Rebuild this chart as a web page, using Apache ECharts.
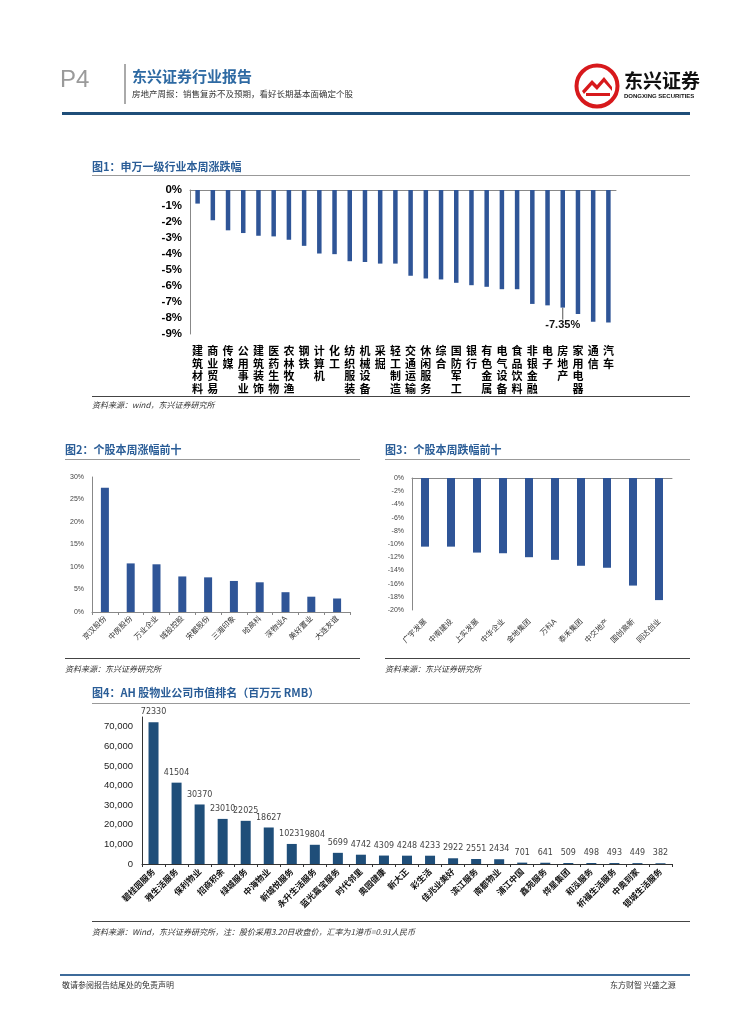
<!DOCTYPE html>
<html><head><meta charset="utf-8">
<script src="https://cdn.jsdelivr.net/npm/echarts@6/dist/echarts.min.js"></script>
<style>
body{margin:0;background:#fff;font-family:"Noto Sans CJK SC","Liberation Sans",sans-serif;}
#page{position:relative;width:755px;height:1024px;overflow:hidden;}
#chart{position:absolute;left:0;top:0;width:755px;height:1024px;}
.t{position:absolute;white-space:nowrap;line-height:1;}
.ln{position:absolute;height:0;}
.ttl{color:#2a5d97;font-weight:bold;font-size:11px;}
.src{color:#333;font-size:8px;font-style:italic;}
</style></head>
<body><div id="page">
<div id="chart"></div>
<div class="t" style="left:60px;top:67px;font-size:24px;color:#9a9a9a;font-family:'Liberation Sans';">P4</div>
<div class="ln" style="left:124px;top:64px;width:0;height:40px;border-left:2px solid #aaa;"></div>
<div class="t" style="left:132px;top:68px;font-size:15px;font-weight:bold;color:#2e6aa3;">东兴证券行业报告</div>
<div class="t" style="left:132px;top:89px;font-size:8.5px;color:#333;">房地产周报：销售复苏不及预期，看好长期基本面确定个股</div>
<svg style="position:absolute;left:574px;top:63px;" width="46" height="46" viewBox="0 0 46 46">
<circle cx="23" cy="23" r="20.5" fill="none" stroke="#d7191c" stroke-width="4"/>
<path d="M8 28 L18 17 L23 22 L30 14 L38 24 L38 28 L30 19 L23 27 L18 22 L10 31 Z" fill="#d7191c"/>
<path d="M12 33 L36 33 L36 30 L12 30 Z" fill="#d7191c"/>
</svg>
<div class="t" style="left:624px;top:70px;font-size:19px;font-weight:bold;color:#111;">东兴证券</div>
<div class="t" style="left:624px;top:93px;font-size:6px;font-weight:bold;color:#111;font-family:'Liberation Sans';">DONGXING SECURITIES</div>
<div class="ln" style="left:62px;top:112px;width:628px;border-top:3px solid #1f4e79;"></div>

<div class="t ttl" style="left:92px;top:161px;">图1：申万一级行业本周涨跌幅</div>
<div class="ln" style="left:92px;top:175px;width:598px;border-top:1px solid #999;"></div>
<div class="ln" style="left:92px;top:396px;width:598px;border-top:1.5px solid #444;"></div>
<div class="t src" style="left:92px;top:401px;">资料来源：wind，东兴证券研究所</div>

<div class="t ttl" style="left:65px;top:444px;">图2：个股本周涨幅前十</div>
<div class="ln" style="left:65px;top:459px;width:295px;border-top:1px solid #999;"></div>
<div class="ln" style="left:65px;top:658px;width:295px;border-top:1.5px solid #444;"></div>
<div class="t src" style="left:65px;top:665px;">资料来源：东兴证券研究所</div>

<div class="t ttl" style="left:385px;top:444px;">图3：个股本周跌幅前十</div>
<div class="ln" style="left:385px;top:459px;width:305px;border-top:1px solid #999;"></div>
<div class="ln" style="left:385px;top:658px;width:305px;border-top:1.5px solid #444;"></div>
<div class="t src" style="left:385px;top:665px;">资料来源：东兴证券研究所</div>

<div class="t ttl" style="left:92px;top:687px;">图4：AH 股物业公司市值排名（百万元 RMB）</div>
<div class="ln" style="left:92px;top:703px;width:598px;border-top:1px solid #999;"></div>
<div class="ln" style="left:92px;top:921px;width:598px;border-top:1.5px solid #444;"></div>
<div class="t src" style="left:92px;top:928px;">资料来源：Wind，东兴证券研究所，注：股价采用3.20日收盘价，汇率为1港币=0.91人民币</div>

<div class="ln" style="left:60px;top:974px;width:630px;border-top:2px solid #3d6b9a;"></div>
<div class="t" style="left:62px;top:981px;font-size:8px;color:#333;">敬请参阅报告结尾处的免责声明</div>
<div class="t" style="left:610px;top:981px;font-size:8px;color:#333;">东方财智 兴盛之源</div>
</div>
<script>
// Figure 1
const fig1Industries = ['建筑材料','商业贸易','传媒','公用事业','建筑装饰','医药生物','农林牧渔','钢铁','计算机','化工','纺织服装','机械设备','采掘','轻工制造','交通运输','休闲服务','综合','国防军工','银行','有色金属','电气设备','食品饮料','非银金融','电子','房地产','家用电器','通信','汽车'];
const fig1Change = [-0.85,-1.89,-2.52,-2.69,-2.86,-2.90,-3.11,-3.49,-3.97,-4.01,-4.45,-4.50,-4.60,-4.60,-5.36,-5.53,-5.59,-5.80,-5.95,-6.05,-6.20,-6.20,-7.12,-7.21,-7.35,-7.75,-8.24,-8.28];
const fig1Highlight = '房地产';
// Figure 2
const fig2Stocks = ['京汉股份','中房股份','万业企业','城投控股','宋都股份','三湘印象','哈高科','深物业A','美好置业','大连友谊'];
const fig2Gain = [27.6,10.8,10.6,7.9,7.7,6.9,6.6,4.4,3.4,3.0];
// Figure 3
const fig3Stocks = ['广宇发展','中南建设','上实发展','中华企业','金地集团','万科A','泰禾集团','中交地产','国创高新','同达创业'];
const fig3Drop = [-10.4,-10.4,-11.3,-11.4,-12.0,-12.4,-13.3,-13.6,-16.3,-18.5];
// Figure 4
const fig4Companies = ['碧桂园服务','雅生活服务','保利物业','招商积余','绿城服务','中海物业','新城悦服务','永升生活服务','蓝光嘉宝服务','时代邻里','奥园健康','新大正','彩生活','佳兆业美好','滨江服务','南都物业','浦江中国','鑫苑服务','烨星集团','和泓服务','祈福生活服务','中奥到家','银城生活服务'];
const fig4MarketCap = [72330,41504,30370,23010,22025,18627,10231,9804,5699,4742,4309,4248,4233,2922,2551,2434,701,641,509,498,493,449,382];

const CJK = '"Noto Sans CJK SC", sans-serif';
const LAT = '"Liberation Sans", Arial, sans-serif';
const blue = '#2f5597';
const blue4 = '#1f4e79';

const chart = echarts.init(document.getElementById('chart'), null, {renderer:'canvas'});
const option = {
  animation:false,
  grid:[
    {left:190, top:190, width:426, height:144},
    {left:92, top:477, width:258, height:135},
    {left:412, top:478, width:260, height:132},
    {left:142, top:717, width:530, height:147}
  ],
  xAxis:[
    {gridIndex:0, type:'category', data:fig1Industries, position:'top',
     axisLine:{lineStyle:{color:'#888'}}, axisTick:{show:false}, axisLabel:{show:false}},
    {gridIndex:0, type:'category', data:fig1Industries, position:'bottom',
     axisLine:{show:false, onZero:false}, axisTick:{show:false},
     axisLabel:{interval:0, margin:11, fontFamily:CJK, fontSize:11, fontWeight:'bold', color:'#000', lineHeight:12.5, verticalAlign:'top',
       formatter:v=>v.split('').join('\n')}},
    {gridIndex:1, type:'category', data:fig2Stocks,
     axisLine:{lineStyle:{color:'#888'}}, axisTick:{show:true, length:3, lineStyle:{color:'#888'}},
     axisLabel:{interval:0, rotate:45, margin:5, fontFamily:CJK, fontSize:7.5, color:'#333'}},
    {gridIndex:2, type:'category', data:fig3Stocks, position:'top',
     axisLine:{lineStyle:{color:'#888'}}, axisTick:{show:false}, axisLabel:{show:false}},
    {gridIndex:2, type:'category', data:fig3Stocks, position:'bottom',
     axisLine:{show:false, onZero:false}, axisTick:{show:false},
     axisLabel:{interval:0, rotate:45, margin:10, fontFamily:CJK, fontSize:7.5, color:'#333'}},
    {gridIndex:3, type:'category', data:fig4Companies,
     axisLine:{lineStyle:{color:'#333'}}, axisTick:{show:true, length:3, lineStyle:{color:'#333'}},
     axisLabel:{interval:0, rotate:45, margin:6, fontFamily:CJK, fontSize:8.5, fontWeight:'bold', color:'#111'}}
  ],
  yAxis:[
    {gridIndex:0, type:'value', min:-9, max:0, interval:1,
     axisLine:{show:true, lineStyle:{color:'#888'}}, axisTick:{show:false}, splitLine:{show:false},
     axisLabel:{fontFamily:LAT, fontSize:11.5, fontWeight:'bold', color:'#000', margin:8, formatter:v=>v+'%'}},
    {gridIndex:1, type:'value', min:0, max:30, interval:5,
     axisLine:{show:true, lineStyle:{color:'#888'}}, axisTick:{show:false}, splitLine:{show:false},
     axisLabel:{fontFamily:LAT, fontSize:7, color:'#444', margin:8, formatter:v=>v+'%'}},
    {gridIndex:2, type:'value', min:-20, max:0, interval:2,
     axisLine:{show:true, lineStyle:{color:'#888'}}, axisTick:{show:false}, splitLine:{show:false},
     axisLabel:{fontFamily:LAT, fontSize:7, color:'#444', margin:8, formatter:v=>v+'%'}},
    {gridIndex:3, type:'value', min:0, max:75000, interval:10000,
     axisLine:{show:true, lineStyle:{color:'#333'}}, axisTick:{show:false}, splitLine:{show:false},
     axisLabel:{fontFamily:LAT, fontSize:9.5, color:'#222', margin:9, showMaxLabel:false,
       formatter:v=>v.toLocaleString('en-US')}}
  ],
  series:[
    {type:'bar', xAxisIndex:1, yAxisIndex:0, barWidth:4.5, itemStyle:{color:blue},
     labelLayout:{dy:10},
     data:fig1Change.map((v,i)=>fig1Industries[i]===fig1Highlight ? {value:v,
       label:{show:true, position:'bottom', distance:2, fontFamily:LAT, fontSize:11, fontWeight:'bold', color:'#111', formatter:p=>p.value.toFixed(2)+'%'},
       labelLine:{show:true, lineStyle:{color:'#555', width:1}}} : v)},
    {type:'bar', xAxisIndex:2, yAxisIndex:1, barWidth:8, itemStyle:{color:blue}, data:fig2Gain},
    {type:'bar', xAxisIndex:4, yAxisIndex:2, barWidth:8, itemStyle:{color:blue}, data:fig3Drop},
    {type:'bar', xAxisIndex:5, yAxisIndex:3, barWidth:10, itemStyle:{color:blue4}, data:fig4MarketCap,
     label:{show:true, position:'top', distance:6, fontFamily:'"DejaVu Sans", sans-serif', fontSize:8, color:'#444'}}
  ]
};
chart.setOption(option);
</script>
</body></html>
